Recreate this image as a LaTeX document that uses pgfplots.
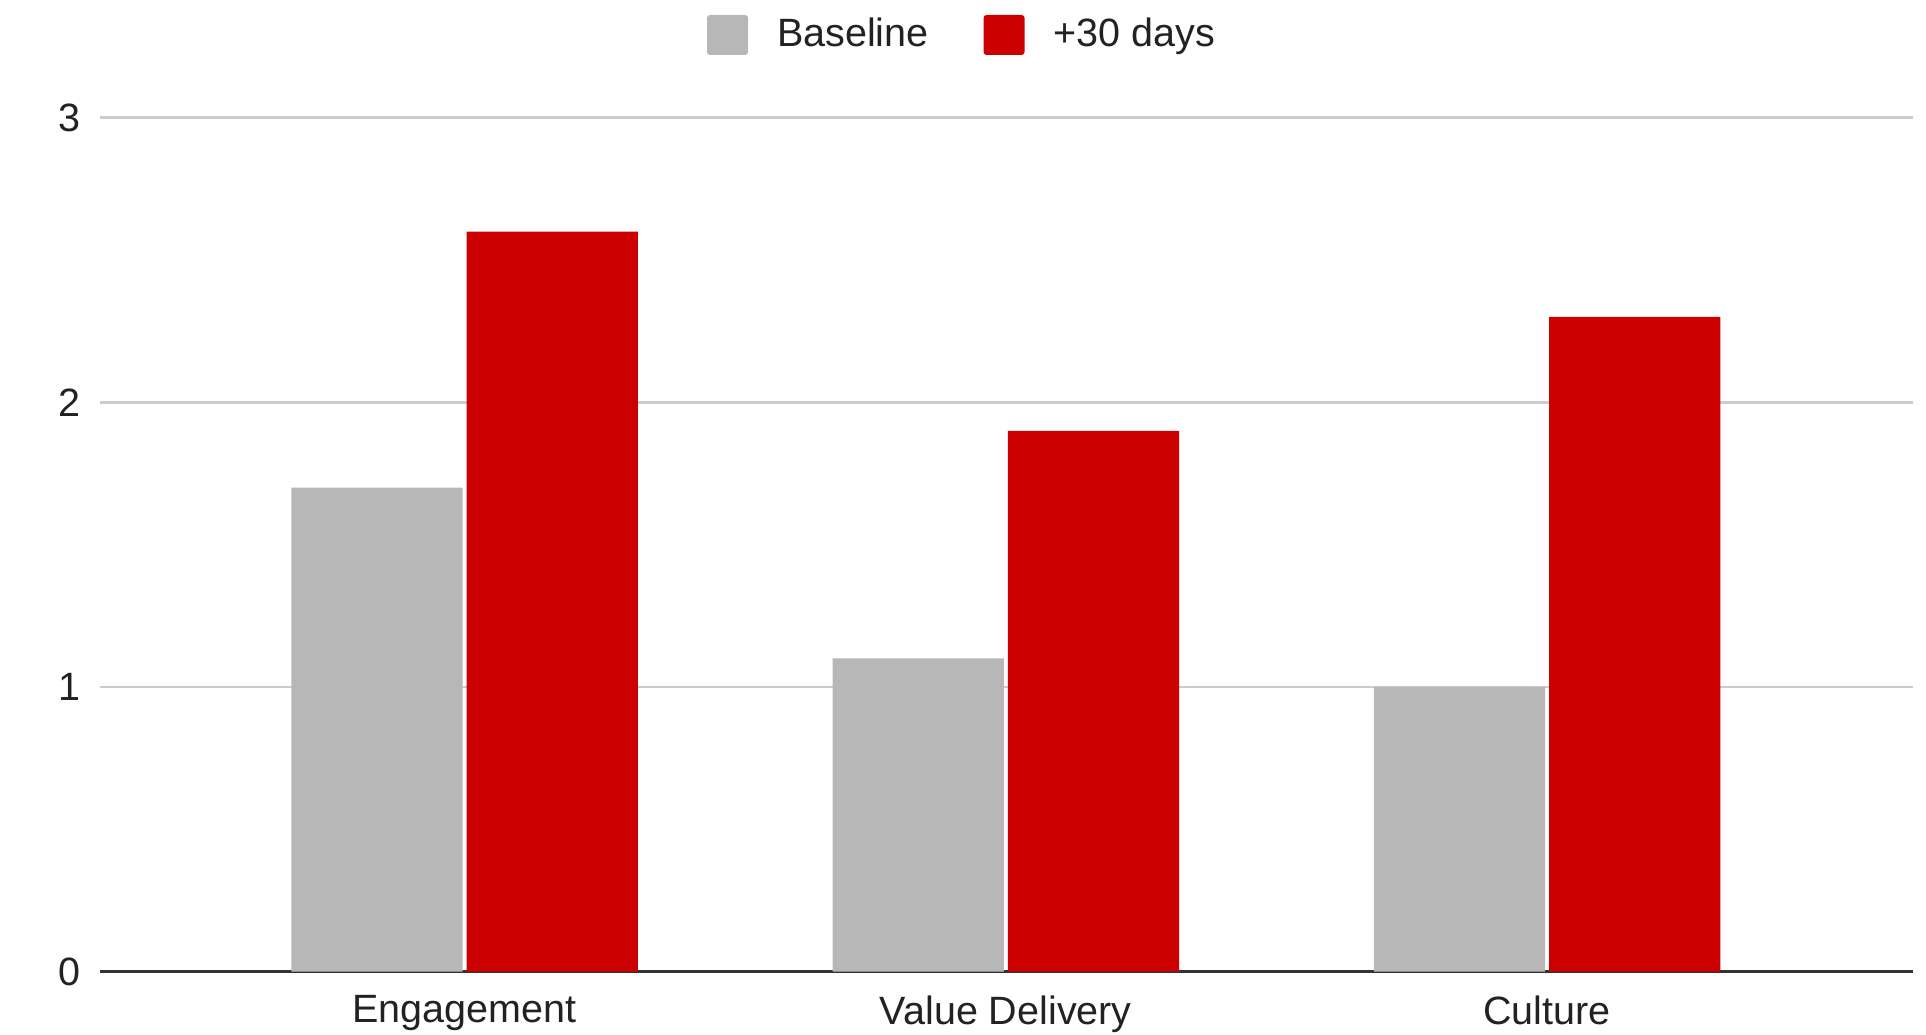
\documentclass[border=0pt]{standalone}
\usepackage{fontspec}
\setmainfont{Liberation Sans}
\usepackage{pgfplots}
\pgfplotsset{compat=1.18}
\definecolor{basegray}{HTML}{B7B7B7}
\definecolor{dred}{HTML}{CC0000}
\definecolor{gridc}{HTML}{CCCCCC}
\definecolor{axisc}{HTML}{333333}
\definecolor{txt}{HTML}{222222}
\begin{document}
\fontsize{19.75pt}{23.7pt}\selectfont
\begin{tikzpicture}
\useasboundingbox (0,0) rectangle (963pt,517pt);
\begin{axis}[
  at={(50pt,31.25pt)}, anchor=south west,
  scale only axis, width=906.5pt, height=426.9pt,
  xmin=-0.6735, xmax=2.676, ymin=0, ymax=3,
  ytick={0,1,2,3}, xtick={0,1,2},
  xticklabels={Engagement,Value Delivery,Culture},
  ymajorgrids, grid style={gridc, line width=1.2pt},
  axis x line*=bottom, axis y line*=left,
  x axis line style={axisc, line width=1.5pt},
  y axis line style={draw=none},
  major tick length=0pt, tick style={draw=none},
  ybar, bar width=85.6pt,
  tick label style={font=\fontsize{19.75pt}{23.7pt}\selectfont, text=txt},
  /pgf/number format/assume math mode=true,
  yticklabel style={anchor=east, inner sep=0pt, xshift=-9.7pt},
  xticklabel style={anchor=north, inner sep=0pt, yshift=-11.75pt},
  legend columns=2,
  legend style={at={(0.4749,1.1203)}, anchor=north, draw=none, fill=none,
    inner sep=0pt, outer sep=0pt,
    nodes={inner sep=0pt, text=txt, font=\fontsize{19.75pt}{23.7pt}\selectfont},
    cells={anchor=base west},
    /tikz/every odd column/.append style={column sep=14.5pt},
    /tikz/every even column/.append style={column sep=27.5pt}},
]
\addplot[fill=basegray, draw=none, bar shift=-43.8pt,
  legend image code/.code={\fill[basegray, rounded corners=1.5pt] (0pt,-4.15pt) rectangle (20.5pt,15.85pt);}]
  coordinates {(0,1.7) (1,1.1) (2,1.0)};
\addplot[fill=dred, draw=none, bar shift=43.8pt,
  legend image code/.code={\fill[dred, rounded corners=1.5pt] (0pt,-4.15pt) rectangle (20.5pt,15.85pt);}]
  coordinates {(0,2.6) (1,1.9) (2,2.3)};
\legend{Baseline,+30 days}
\end{axis}
\end{tikzpicture}
\end{document}
